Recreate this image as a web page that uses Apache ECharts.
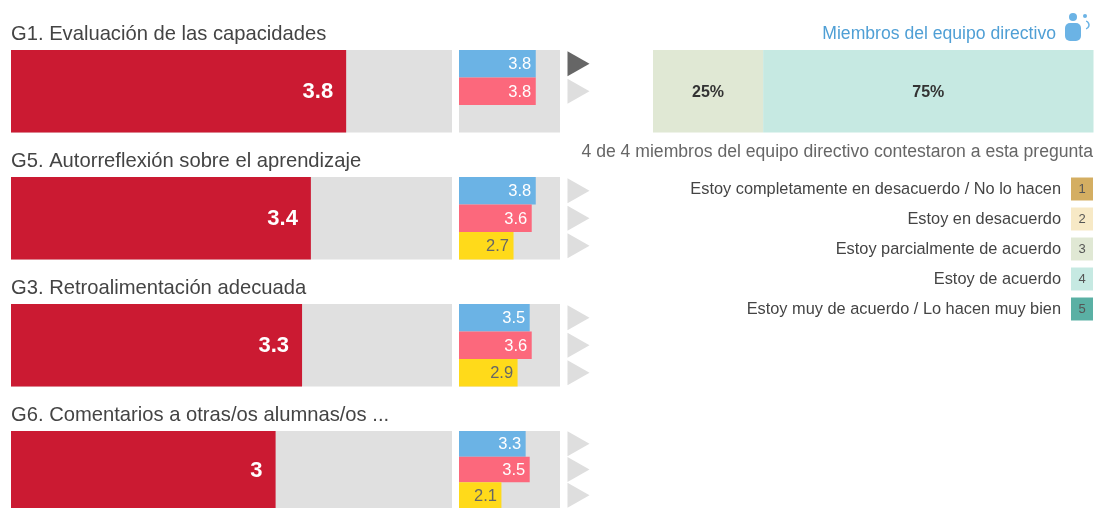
<!DOCTYPE html>
<html><head><meta charset="utf-8">
<style>html,body{margin:0;padding:0;background:#fff}#c{width:1094px;height:508px}</style>
<script src="https://cdn.jsdelivr.net/npm/echarts@6/dist/echarts.min.js"></script>
</head><body><div id="c"></div>
<script>
const questions = ['G1. Evaluación de las capacidades','G5. Autorreflexión sobre el aprendizaje','G3. Retroalimentación adecuada','G6. Comentarios a otras/os alumnas/os ...'];
const mainValues = [3.8,3.4,3.3,3];
const blueValues = [3.8,3.8,3.5,3.3];
const pinkValues = [3.8,3.6,3.6,3.5];
const yellowValues = [null,2.7,2.9,2.1];
const markerRows = [['active','idle'],['idle','idle','idle'],['idle','idle','idle'],['idle','idle','idle']];
const shareLabels = ['Estoy parcialmente de acuerdo','Estoy de acuerdo'];
const shareValues = [25,75];
const legendLabels = ['Estoy completamente en desacuerdo / No lo hacen','Estoy en desacuerdo','Estoy parcialmente de acuerdo','Estoy de acuerdo','Estoy muy de acuerdo / Lo hacen muy bien'];
const legendCodes = [1,2,3,4,5];
const scaleMax = 5;

const FONT = '"Liberation Sans",Arial,sans-serif';
const C = {main:'#CB1A32',blue:'#6BB3E5',pink:'#FC687C',yellow:'#FFDA1A',track:'#E0E0E0',dark:'#666666',idle:'#DEDEDE',
  s3:'#E0E8D4',s4:'#C6E9E2'};
const legendColors = ['#D4AE62','#F7E9C6','#E0E8D4','#C6E9E2','#5AB0A4'];
const rowTops = [50,177,304,431];
const H = 82.5;

const grid=[],xAxis=[],yAxis=[],series=[],title=[];
function addGrid(left,top,width,height,xmax,cats,bg){
  const i=grid.length;
  grid.push(Object.assign({left,top,width,height,containLabel:false},bg?{show:true,backgroundColor:bg,borderWidth:0}:{}));
  xAxis.push({gridIndex:i,type:'value',min:0,max:xmax,show:false});
  yAxis.push({gridIndex:i,type:'category',data:cats,inverse:true,show:false});
  return i;
}
const rowCats=['Equipo directivo','Docentes','Alumnado'];
questions.forEach((q,r)=>{
  const top=rowTops[r];
  title.push({text:q,left:11,top:top-26,padding:0,textStyle:{fontFamily:FONT,fontSize:20.2,fontWeight:'normal',color:'#444444'}});
  let g=addGrid(11,top,441,H,scaleMax,[q],C.track);
  series.push({type:'bar',xAxisIndex:g,yAxisIndex:g,data:[mainValues[r]],barWidth:'100%',itemStyle:{color:C.main},
    label:{show:true,position:'insideRight',distance:13,offset:[0,1],fontFamily:FONT,fontSize:22,fontWeight:'bold',color:'#fff'}});
  g=addGrid(459,top,101,H,scaleMax,rowCats,C.track);
  series.push({type:'bar',xAxisIndex:g,yAxisIndex:g,barCategoryGap:0,
    data:[{value:blueValues[r],itemStyle:{color:C.blue},label:{color:'#fff'}},
          {value:pinkValues[r],itemStyle:{color:C.pink},label:{color:'#fff'}},
          {value:yellowValues[r],itemStyle:{color:C.yellow},label:{color:'#666'}}],
    label:{show:true,position:'insideRight',distance:4.5,offset:[0,1],fontFamily:FONT,fontSize:16.5,
      formatter:p=>p.value==null?'':String(p.value)}});
  g=addGrid(567,top,23,H,1,rowCats);
  series.push({type:'scatter',xAxisIndex:g,yAxisIndex:g,symbol:'path://M0 0L1 0.5L0 1Z',symbolSize:[22,25],
    silent:true,
    data:markerRows[r].map((m,k)=>({value:[0.5,k],itemStyle:{opacity:1,color:m==='active'?C.dark:C.idle}}))});
});
let g=addGrid(653,50,440.5,H,100,['share']);
[C.s3,C.s4].forEach((col,k)=>{
  series.push({type:'bar',name:shareLabels[k],stack:'share',xAxisIndex:g,yAxisIndex:g,barWidth:'100%',data:[shareValues[k]],itemStyle:{color:col},
    label:{show:true,position:'inside',offset:[0,1],formatter:'{c}%',fontFamily:FONT,fontSize:16,fontWeight:'bold',color:'#333'}});
});
g=addGrid(1071,174,22,150,1,legendLabels);
yAxis[g].show=true;
yAxis[g].axisLine={show:false};yAxis[g].axisTick={show:false};
yAxis[g].axisLabel={margin:10,fontFamily:FONT,fontSize:16.35,color:'#444',interval:0};
series.push({type:'bar',xAxisIndex:g,yAxisIndex:g,barWidth:23,
  data:legendCodes.map((c,k)=>({value:1,code:c,itemStyle:{color:legendColors[k]}})),
  label:{show:true,position:'inside',formatter:p=>String(legendCodes[p.dataIndex]),fontFamily:FONT,fontSize:13,color:'#555'}});

title.push({text:'Miembros del equipo directivo',right:38,top:25,padding:0,textStyle:{fontFamily:FONT,fontSize:17.6,fontWeight:'normal',color:'#4F9FD5'}});
title.push({text:'4 de 4 miembros del equipo directivo contestaron a esta pregunta',right:1,top:143,padding:0,textStyle:{fontFamily:FONT,fontSize:17.6,fontWeight:'normal',color:'#666666'}});

const chart=echarts.init(document.getElementById('c'),null,{renderer:'canvas'});
chart.setOption({animation:false,backgroundColor:'#fff',title,grid,xAxis,yAxis,series,
  graphic:[
    {type:'circle',shape:{cx:1073,cy:17,r:4},style:{fill:'#6BB3E5'}},
    {type:'rect',shape:{x:1065,y:23,width:16,height:18,r:5},style:{fill:'#6BB3E5'}},
    {type:'circle',shape:{cx:1085,cy:16,r:2},style:{fill:'#6BB3E5'}},
    {type:'arc',shape:{cx:1085,cy:25,r:4,startAngle:-1.3,endAngle:1.3},style:{stroke:'#6BB3E5',fill:'none',lineWidth:1.5}}
  ]});
</script></body></html>
